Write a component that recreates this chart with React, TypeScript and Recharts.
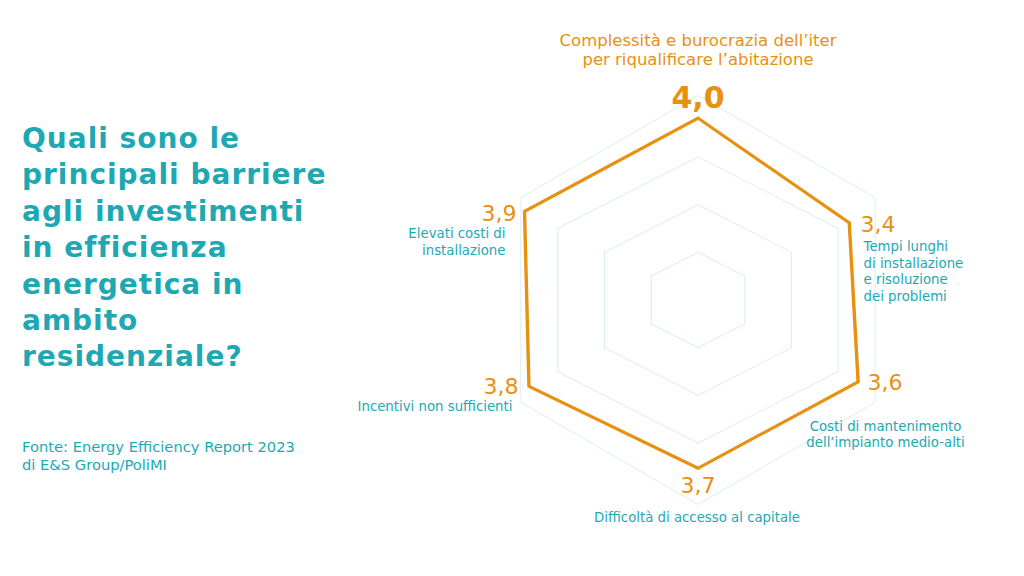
import React from "react";
import { PolarAngleAxis, PolarGrid, PolarRadiusAxis, Radar, RadarChart } from "recharts";

const TEAL = "#1ea8b3";
const ORANGE = "#e8900f";
const GRID = "#d9eff2";
const FONT = "'DejaVu Sans', sans-serif";

// barriers, clockwise from the top
const categories = [
  "Complessità e burocrazia dell’iter per riqualificare l’abitazione",
  "Tempi lunghi di installazione e risoluzione dei problemi",
  "Costi di mantenimento dell’impianto medio-alti",
  "Difficoltà di accesso al capitale",
  "Incentivi non sufficienti",
  "Elevati costi di installazione",
];
const labelLines = [
  ["Complessità e burocrazia dell’iter", "per riqualificare l’abitazione"],
  ["Tempi lunghi", "di installazione", "e risoluzione", "dei problemi"],
  ["Costi di mantenimento", "dell’impianto medio-alti"],
  ["Difficoltà di accesso al capitale"],
  ["Incentivi non sufficienti"],
  ["Elevati costi di", "installazione"],
];
const scores = [4.0, 3.4, 3.6, 3.7, 3.8, 3.9];
const innerRings = [1.05, 2.1, 3.15];
const outerRing = [4.5];

const titleLines = [
  "Quali sono le",
  "principali barriere",
  "agli investimenti",
  "in efficienza",
  "energetica in",
  "ambito",
  "residenziale?",
];
const sourceLines = ["Fonte: Energy Efficiency Report 2023", "di E&S Group/PoliMI"];

const MAX = 4.4;
const OUTER = 200;
const CX = 698;
const CY = 300;
const SX = 1.13; // the original hexagon is wider than tall

const data = categories.map((name, i) => ({ name, score: scores[i] }));

// label placement around each tick point (screen px)
const layout = [
  { vAnchor: "middle", vdx: 0, vdy: 16, vSize: 30, vWeight: 700, lAnchor: "middle", ldx: 0, ldy: -46, lSize: 16.5, lStep: 19, color: ORANGE },
  { vAnchor: "start", vdx: -41, vdy: 36, vSize: 22, vWeight: 400, lAnchor: "start", ldx: -38, ldy: 55, lSize: 13.3, lStep: 16.7, color: TEAL },
  { vAnchor: "start", vdx: -34, vdy: -14, vSize: 22, vWeight: 400, lAnchor: "middle", ldx: -16, ldy: 27, lSize: 13.3, lStep: 15.5, color: TEAL },
  { vAnchor: "middle", vdx: 0, vdy: -15, vSize: 22, vWeight: 400, lAnchor: "middle", ldx: -1, ldy: 14, lSize: 13.3, lStep: 16, color: TEAL },
  { vAnchor: "end", vdx: 24, vdy: -10, vSize: 22, vWeight: 400, lAnchor: "end", ldx: 18, ldy: 7, lSize: 13.3, lStep: 16, color: TEAL },
  { vAnchor: "end", vdx: 22, vdy: 25, vSize: 22, vWeight: 400, lAnchor: "end", ldx: 11, ldy: 42, lSize: 13.3, lStep: 17, color: TEAL },
];

const fmt = (v: number) => v.toFixed(1).replace(".", ",");

function BarrierTick(props: any) {
  const { x, y, index } = props;
  const l = layout[index];
  const lines = labelLines[index];
  return (
    <g transform={`translate(${x} ${y}) scale(${1 / SX} 1)`}>
      <text
        x={l.vdx}
        y={l.vdy}
        textAnchor={l.vAnchor}
        fill={ORANGE}
        fontSize={l.vSize}
        fontWeight={l.vWeight}
        fontFamily={FONT}
      >
        {fmt(scores[index])}
      </text>
      {lines.map((line, k) => (
        <text
          key={k}
          x={l.ldx}
          y={l.ldy + k * l.lStep}
          textAnchor={l.lAnchor}
          fill={l.color}
          fontSize={l.lSize}
          fontFamily={FONT}
        >
          {line}
        </text>
      ))}
    </g>
  );
}

export default function App() {
  return (
    <div
      style={{
        position: "absolute",
        left: 0,
        top: 0,
        width: 1024,
        height: 576,
        overflow: "hidden",
        background: "#fff",
        fontFamily: FONT,
      }}
    >
      <div style={{ position: "absolute", left: 22, top: 121, color: TEAL }}>
        {titleLines.map((t) => (
          <div
            key={t}
            style={{ fontSize: 28, fontWeight: 700, lineHeight: "36.4px", letterSpacing: 1, whiteSpace: "nowrap" }}
          >
            {t}
          </div>
        ))}
      </div>
      <div style={{ position: "absolute", left: 22, top: 438, color: TEAL }}>
        {sourceLines.map((t) => (
          <div key={t} style={{ fontSize: 14.7, lineHeight: "18px", whiteSpace: "nowrap" }}>
            {t}
          </div>
        ))}
      </div>
      {/* the outermost ring is drawn regular, not widened */}
      <div style={{ position: "absolute", left: 0, top: 0 }}>
        <RadarChart width={1024} height={576} data={data} cx={CX} cy={CY} outerRadius={OUTER}>
          <PolarGrid
            gridType="polygon"
            radialLines={false}
            stroke={GRID}
            polarRadius={outerRing.map((v) => (v / MAX) * OUTER)}
          />
          <PolarAngleAxis dataKey="name" tick={false} tickLine={false} axisLine={false} />
          <PolarRadiusAxis domain={[0, MAX]} tick={false} axisLine={false} />
        </RadarChart>
      </div>
      <div
        style={{
          position: "absolute",
          left: 0,
          top: 0,
          transform: `scaleX(${SX})`,
          transformOrigin: `${CX}px ${CY}px`,
        }}
      >
        <RadarChart width={1024} height={576} data={data} cx={CX} cy={CY} outerRadius={OUTER}>
          <PolarGrid
            gridType="polygon"
            radialLines={false}
            stroke={GRID}
            polarRadius={innerRings.map((v) => (v / MAX) * OUTER)}
          />
          <PolarAngleAxis dataKey="name" tick={<BarrierTick />} tickLine={false} axisLine={false} />
          <PolarRadiusAxis domain={[0, MAX]} tick={false} axisLine={false} />
          <Radar
            dataKey="score"
            stroke={ORANGE}
            strokeWidth={3}
            fill="none"
            fillOpacity={0}
            dot={false}
            isAnimationActive={false}
          />
        </RadarChart>
      </div>
    </div>
  );
}
